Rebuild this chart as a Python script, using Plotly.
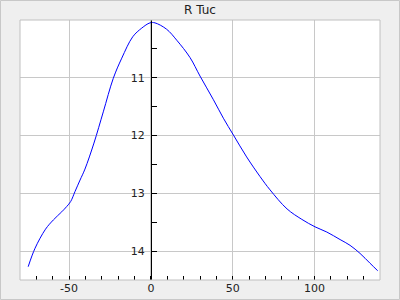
import plotly.graph_objects as go

phase = [-75.0, -70.8, -64.4, -59.6, -54.5, -51.5, -49.0, -46.4, -43.3, -40.3, -34.8, -29.1,
         -23.0, -17.8, -11.1, -5.6, -0.6, 2.5, 9.6, 15.8, 23.9, 30.0, 38.2, 44.3,
         50.4, 58.5, 66.7, 72.8, 83.2, 92.2, 100.3, 107.5, 115.6, 121.7, 127.8, 133.9, 138.6]
mag = [14.27, 13.95, 13.62, 13.46, 13.32, 13.23, 13.14, 12.97, 12.77, 12.58, 12.13, 11.59,
       11.01, 10.66, 10.29, 10.14, 10.05, 10.05, 10.16, 10.35, 10.65, 10.97, 11.38, 11.70,
       11.99, 12.37, 12.71, 12.94, 13.27, 13.45, 13.58, 13.67, 13.80, 13.90, 14.04, 14.21, 14.34]

x_range = [-80, 140]
y_range = [14.5, 10]
x_ticks = [-50, 0, 50, 100]
x_labels = ["-50", "0", "50", "100"]
y_ticks = [11, 12, 13, 14]
y_labels = ["11", "12", "13", "14"]
title = "R Tuc"

font = dict(family="DejaVu Sans", size=11, color="#222222")

fig = go.Figure(go.Scatter(x=phase, y=mag, mode="lines",
                           line=dict(color="#0000ff", width=1, shape="spline", smoothing=1.0),
                           hoverinfo="skip"))

fig.update_layout(
    width=400, height=300,
    margin=dict(l=20, r=20, t=20, b=20, autoexpand=False),
    paper_bgcolor="#efefef", plot_bgcolor="#ffffff",
    showlegend=False,
    font=font,
    title=dict(text=title, x=0.5, xref="container", y=1 - 10 / 300, yref="container",
               xanchor="center", yanchor="middle", font=dict(family="DejaVu Sans", size=12, color="#222222")),
    xaxis=dict(range=x_range, tickvals=x_ticks, ticktext=x_labels, showgrid=True, gridcolor="#c8c8c8", gridwidth=1,
               zeroline=False, showline=False, ticks="inside", ticklen=4, tickcolor="#000000",
               minor=dict(dtick=10, ticks="inside", ticklen=4, tickcolor="#000000", showgrid=False),
               tickfont=font, automargin=False),
    yaxis=dict(range=y_range, tickvals=y_ticks, ticktext=y_labels, showgrid=True, gridcolor="#c8c8c8", gridwidth=1,
               zeroline=False, showline=True, linecolor="#000000", linewidth=1,
               anchor="free", position=(0 - x_range[0]) / (x_range[1] - x_range[0]),
               ticks="inside", ticklen=5, tickcolor="#000000",
               minor=dict(dtick=0.5, ticks="inside", ticklen=5, tickcolor="#000000", showgrid=False),
               tickfont=font, ticklabelstandoff=4, automargin=False),
    shapes=[
        dict(type="rect", xref="paper", yref="paper", x0=0, x1=1, y0=0, y1=1,
             line=dict(color="#c0c0c0", width=1), fillcolor="rgba(0,0,0,0)", layer="above"),
        dict(type="rect", xref="paper", yref="paper", x0=-19.5 / 360, x1=1 + 19.5 / 360,
             y0=-19.5 / 260, y1=1 + 19.5 / 260,
             line=dict(color="#c8c8c8", width=1), fillcolor="rgba(0,0,0,0)", layer="below"),
    ],
)

fig.write_html("out.html")
